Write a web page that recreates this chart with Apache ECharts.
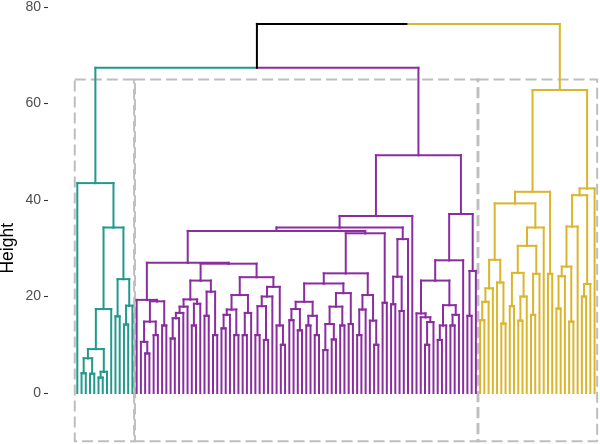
<!DOCTYPE html>
<html>
<head>
<meta charset="utf-8">
<script src="https://cdn.jsdelivr.net/npm/echarts@6/dist/echarts.min.js"></script>
<style>
  html, body { margin: 0; padding: 0; background: #fff; }
  #chart { width: 600px; height: 444px; }
</style>
</head>
<body>
<div id="chart"></div>
<script>
// tree notation: 0 = leaf, [height, left, right] = merge
const tealTree = [43.5, 0, [34.3, [17.4, [9.1, [7.2, [4.1, 0, 0], [4.0, 0, 0]], [4.4, [3.2, 0, 0], 0]], 0],
  [23.6, [15.9, 0, 0], [18.1, [14.2, 0, 0], 0]]]];

const purpleR1a = [19.3, 0, [19.0, [14.8, [10.6, 0, [8.2, 0, 0]], [12.0, 0, 0]], [14.0, 0, 0]]];
const purpleR1b = [23.3, [19.4, [17.9, [16.6, [15.5, [11.3, 0, 0], 0], 0], 0], [18.5, [14.0, 0, 0], 0]],
  [21.0, [16.0, 0, 0], [12.0, 0, 0]]];
const purpleC1 = [20.3, [17.3, [16.2, [13.4, 0, 0], 0], [12.0, 0, 0]], [16.6, [12.0, 0, 0], 0]];
const purpleC2 = [22.0, [20.0, [18.0, [12.0, 0, 0], [11.0, 0, 0]], 0], [14.0, 0, [10.0, 0, 0]]];
const purpleM1a1 = [18.9, [17.4, [15.1, 0, 0], [13.0, 0, 0]], [16.0, [14.0, 0, 0], [12.0, 0, 0]]];
const purpleM1a2 = [20.7, [17.9, [14.3, [8.9, 0, 0], [11.1, 0, 0]], [14.0, 0, 0]], [14.3, 0, 0]];
const purpleM1b = [20.3, [17.3, [12.0, 0, 0], 0], [15.0, 0, [10.0, 0, 0]]];
const purpleA1b = [31.9, [24.1, [18.4, 0, 0], [17.0, 0, 0]], 0];
const purpleB = [37.1, [27.5, [23.3, [16.5, 0, [15.7, 0, [14.7, [10.0, 0, 0], 0]]],
  [18.2, [14.0, [11.0, 0, 0], 0], [16.2, [14.0, 0, 0], 0]]], 0], [25.3, [16.0, 0, 0], 0]];

const purpleR1 = [27.0, purpleR1a, [26.8, purpleR1b, [24.0, purpleC1, purpleC2]]];
const purpleM = [33.1, [24.8, [22.7, purpleM1a1, purpleM1a2], purpleM1b], [18.7, 0, 0]];
const purpleTree = [49.3, [36.7, [34.3, [33.6, purpleR1, purpleM], purpleA1b], 0], purpleB];

const yellowL1a = [27.6, [21.7, [18.9, [15.1, 0, 0], 0], 0], [22.9, 0, [14.4, 0, 0]]];
const yellowL1b = [34.3, [30.5, [24.9, [18.0, 0, 0], [20.0, [15.0, 0, 0], 0]], [24.7, [16.2, 0, 0], 0]], 0];
const yellowRa = [34.5, [26.2, [24.2, [17.5, 0, 0], 0], [14.8, 0, 0]], 0];
const yellowRb = [22.6, [20.0, 0, 0], 0];
const yellowTree = [62.8, [41.7, [39.3, yellowL1a, yellowL1b], [24.7, 0, 0]], [42.4, [41.0, yellowRa, yellowRb], 0]];

const clusterTrees = [tealTree, purpleTree, yellowTree];
const clusterColors = ['#21998C', '#8A2D9F', '#DBB52B', '#000000'];
const mergeHeights = [67.4, 76.5];   // teal+purple, then + yellow
const rectTop = 65, rectBottom = -10;

// ---- layout
const segments = [];
const rects = [];
let leafCount = 0;

function place(node, ci) {
    if (!Array.isArray(node)) return { x: leafCount++, h: 0 };
    const a = place(node[1], ci);
    const b = place(node[2], ci);
    const x = (a.x + b.x) / 2;
    [a, b].forEach((c) => {
        segments.push([x, node[0], c.x, node[0], ci]);
        segments.push([c.x, node[0], c.x, c.h, ci]);
    });
    return { x: x, h: node[0] };
}
function link(h, kids) {
    const x = (kids[0].x + kids[1].x) / 2;
    kids.forEach((c) => {
        segments.push([x, h, c.x, h, c.ci]);
        segments.push([c.x, h, c.x, c.h, c.ci]);
    });
    return { x: x, h: h, ci: 3 };
}
const clusterTops = clusterTrees.map((t, i) => {
    const first = leafCount;
    const p = place(t, i);
    rects.push([first - 0.6, rectTop, leafCount - 1 + 0.6, rectBottom]);
    return { x: p.x, h: p.h, ci: i };
});
const tp = link(mergeHeights[0], [clusterTops[0], clusterTops[1]]);
link(mergeHeights[1], [tp, clusterTops[2]]);

const chart = echarts.init(document.getElementById('chart'));
chart.setOption({
    animation: false,
    // axis runs down to -20 below the canvas so ticks stay on multiples of 20
    grid: { left: 48, right: 1, top: 7, bottom: -45.5, containLabel: false, outerBoundsMode: 'none' },
    xAxis: {
        type: 'value', min: -6.91, max: 123.04,
        show: false
    },
    yAxis: {
        type: 'value', min: -20, max: 80, interval: 20,
        name: 'Height', nameLocation: 'middle', nameGap: 31, nameRotate: 90, nameMoveOverlap: false,
        nameTextStyle: { color: '#000', fontSize: 17.5, fontFamily: 'Liberation Sans, Arial, sans-serif' },
        axisLine: { show: false, onZero: false },
        axisTick: { show: true, length: 4, lineStyle: { color: '#333333', width: 1.1 } },
        axisLabel: { color: '#4D4D4D', fontSize: 14, margin: 7,
            fontFamily: 'Liberation Sans, Arial, sans-serif' },
        splitLine: { show: false }
    },
    series: [
        {
            type: 'custom',
            data: rects,
            silent: true,
            renderItem: (params, api) => {
                const p0 = api.coord([api.value(0), api.value(1)]);
                const p1 = api.coord([api.value(2), api.value(3)]);
                return {
                    type: 'rect',
                    shape: { x: p0[0], y: p0[1], width: p1[0] - p0[0], height: p1[1] - p0[1] },
                    style: { fill: 'none', stroke: '#BEBEBE', lineWidth: 2, lineDash: [11, 5] }
                };
            }
        },
        {
            type: 'custom',
            data: segments,
            silent: true,
            renderItem: (params, api) => {
                const p0 = api.coord([api.value(0), api.value(1)]);
                const p1 = api.coord([api.value(2), api.value(3)]);
                return {
                    type: 'line',
                    shape: { x1: p0[0], y1: p0[1], x2: p1[0], y2: p1[1] },
                    style: { stroke: clusterColors[api.value(4)], lineWidth: 2, lineCap: 'square' }
                };
            }
        }
    ]
});
</script>
</body>
</html>
